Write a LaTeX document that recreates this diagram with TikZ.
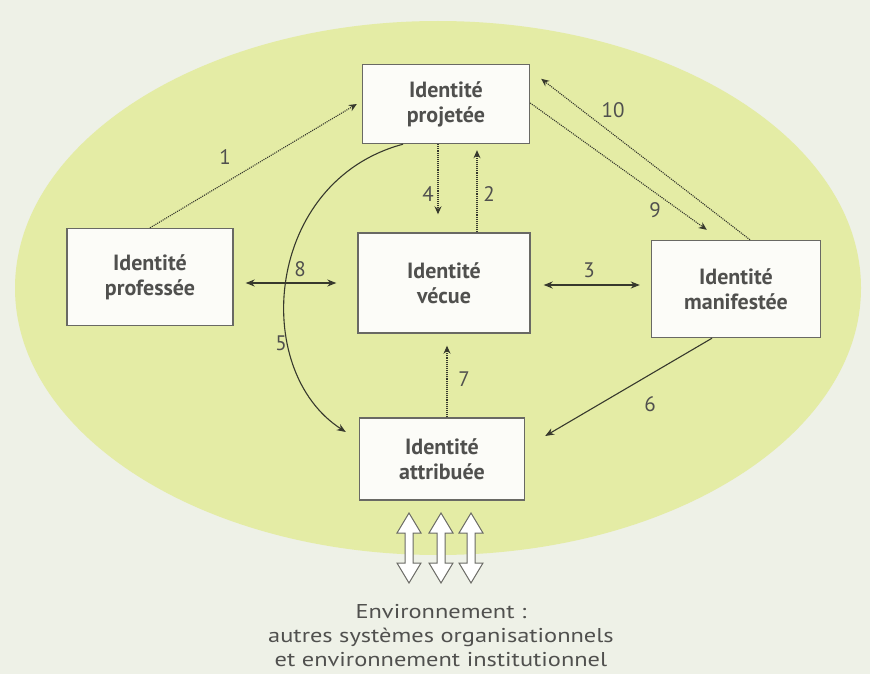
\documentclass[tikz,border=0pt]{standalone}
\usepackage{fontspec}
\setmainfont{PT Sans}
\newfontfamily\envfont[FakeStretch=1.22]{PT Sans}
\usetikzlibrary{arrows.meta,calc}
\definecolor{paper}{RGB}{238,241,231}
\definecolor{ell}{RGB}{228,236,165}
\definecolor{ink}{RGB}{55,57,45}
\definecolor{boxline}{RGB}{105,105,100}
\definecolor{txt}{RGB}{80,80,78}
\definecolor{boxfill}{RGB}{252,252,248}
\begin{document}
\begin{tikzpicture}[x=1pt,y=-1pt,
  idbox/.style={draw=boxline,line width=1.4pt,fill=boxfill,align=center,
    font=\fontsize{22}{25}\selectfont\bfseries,text=txt,inner sep=0pt},
  dots/.style={ink,densely dotted,line width=1.1pt,-{Stealth[length=8pt,width=7pt]}},
  solidarr/.style={ink,line width=1.1pt,-{Stealth[length=9pt,width=7pt]}},
  both/.style={ink,line width=1.2pt,{Stealth[length=9pt,width=7pt]}-{Stealth[length=9pt,width=7pt]}},
  num/.style={text=txt,font=\fontsize{21}{21}\selectfont},
  hollow/.style={draw=boxline,line width=1pt,fill=white}
]
\useasboundingbox (0,0) rectangle (870,674);
\fill[paper] (0,0) rectangle (870,674);
\fill[ell] (438,288) ellipse [x radius=423pt, y radius=267pt];

% boxes
\node[idbox,minimum width=167pt,minimum height=79pt] (proj) at (446,104) {Identité\\projetée};
\node[idbox,minimum width=166pt,minimum height=97pt] (prof) at (150,277) {Identité\\professée};
\node[idbox,minimum width=172pt,minimum height=100pt] (vec) at (444,283) {Identité\\vécue};
\node[idbox,minimum width=169pt,minimum height=97pt] (man) at (736,289) {Identité\\manifestée};
\node[idbox,minimum width=165pt,minimum height=82pt] (att) at (442,459) {Identité\\attribuée};

% connectors
\draw[dots] (prof.north) -- ([xshift=-5pt]proj.west);
\draw[dots] ([xshift=-8pt]proj.south) -- ([xshift=-6pt,yshift=18pt]vec.north);
\draw[dots] ([xshift=33pt]vec.north) -- ([xshift=31pt,yshift=-6pt]proj.south);
\draw[dots] ([xshift=5pt]att.north) -- ([xshift=3pt,yshift=-12pt]vec.south);
\draw[dots] ([yshift=1pt]proj.east) -- ([xshift=56pt,yshift=10pt]man.north west);
\draw[dots] ([xshift=14pt]man.north) -- ([xshift=11pt,yshift=-15pt]proj.north east);
\draw[both] ([xshift=12pt,yshift=-6pt]prof.east) -- ([xshift=-21pt]vec.west);
\draw[both] ([xshift=13pt,yshift=-2pt]vec.east) -- ([xshift=-11pt,yshift=4pt]man.west);
\draw[solidarr] ([xshift=-24pt]man.south) -- ([xshift=20pt,yshift=23pt]att.east);
\draw[solidarr] ([xshift=-43pt]proj.south) .. controls +(-138,37) and +(-96,-62) .. ([xshift=-13pt,yshift=27pt]att.west);

% labels
\node[num] (n1) at (225,157) {1};
\node[num] (n2) at (489,194) {2};
\node[num] (n3) at (589,270) {3};
\node[num] (n4) at (428,194) {4};
\node[num] (n5) at (281,343) {5};
\node[num] (n6) at (650,404) {6};
\node[num] (n7) at (464,379) {7};
\node[num] (n8) at (300,269) {8};
\node[num] (n9) at (655,210) {9};
\node[num] (n10) at (613,110) {10};

% hollow double arrows
\foreach \cx in {409,441,471}{
  \draw[hollow] (\cx,513) -- (\cx+12,533) -- (\cx+4,533) -- (\cx+4,563) -- (\cx+12,563)
    -- (\cx,583) -- (\cx-12,563) -- (\cx-4,563) -- (\cx-4,533) -- (\cx-12,533) -- cycle;
}

\node[font=\envfont\fontsize{20}{24}\selectfont,text=txt,align=center] (env) at (441,636)
  {Environnement :\\autres systèmes organisationnels\\et environnement institutionnel};
\end{tikzpicture}
\end{document}
